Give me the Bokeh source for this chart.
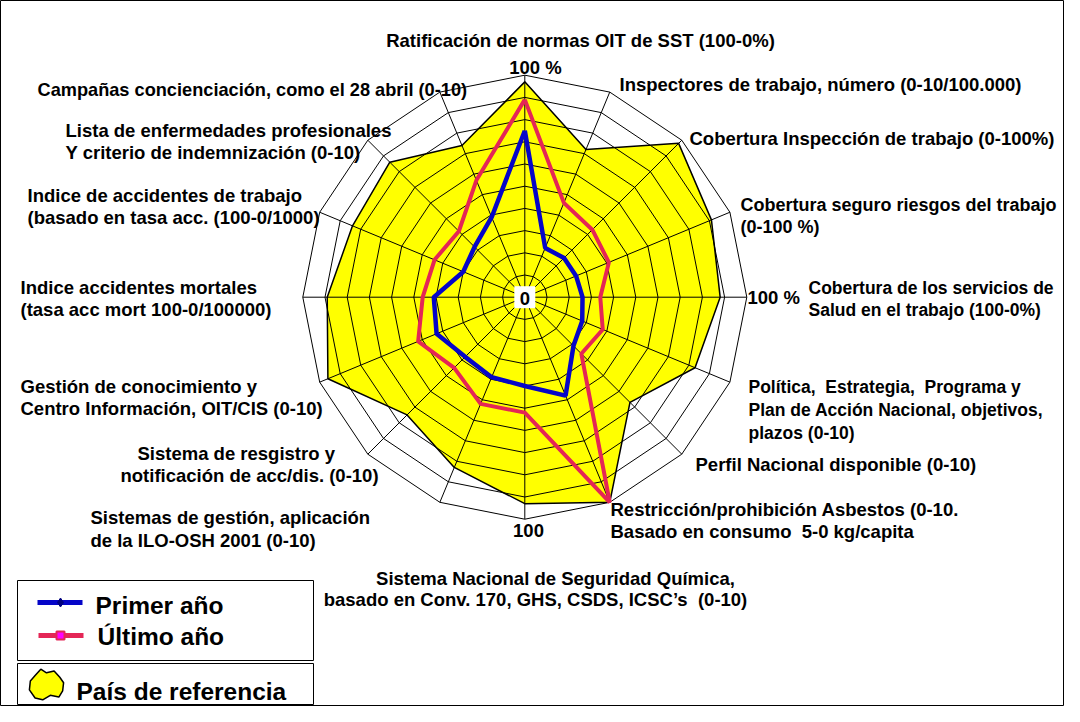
import numpy as np
from bokeh.plotting import figure
from bokeh.models import Range1d
from bokeh.core.properties import value
from bokeh.embed import file_html
from bokeh.resources import INLINE

# ---------------- data ----------------
categories = [
    "Ratificación de normas OIT de SST (100-0%)",
    "Inspectores de trabajo, número (0-10/100.000)",
    "Cobertura Inspección de trabajo (0-100%)",
    "Cobertura seguro riesgos del trabajo (0-100 %)",
    "Cobertura de los servicios de Salud en el trabajo (100-0%)",
    "Política, Estrategia, Programa y Plan de Acción Nacional, objetivos, plazos (0-10)",
    "Perfil Nacional disponible (0-10)",
    "Restricción/prohibición Asbestos (0-10. Basado en consumo 5-0 kg/capita)",
    "Sistema Nacional de Seguridad Química (0-10)",
    "Sistemas de gestión, aplicación de la ILO-OSH 2001 (0-10)",
    "Sistema de resgistro y notificación de acc/dis. (0-10)",
    "Gestión de conocimiento y Centro Información, OIT/CIS (0-10)",
    "Indice accidentes mortales (tasa acc mort 100-0/100000)",
    "Indice de accidentes de trabajo (basado en tasa acc. (100-0/1000)",
    "Lista de enfermedades profesionales Y criterio de indemnización (0-10)",
    "Campañas concienciación, como el 28 abril (0-10)",
]
ref_values   = [97, 72, 98, 91, 88, 83, 67, 100, 93, 83, 75, 96, 89, 84, 86, 74]
last_values  = [89, 46, 43, 41, 34, 38, 36, 100, 52, 52, 45, 52, 46, 44, 42, 57]
first_values = [75, 24, 25, 25, 26, 28, 31, 48, 40, 39, 38, 43, 41, 30, 32, 39]
ring_values = [10, 20, 30, 40, 50, 60, 70, 80, 90, 100]
series_names = ["Primer año", "Último año", "País de referencia"]

# ---------------- layout ----------------
W, H = 1064, 706
CX, CY = 524.3, 296.7       # centre of the radar (px)
S = 2.22                    # px per unit (0-100)
N = len(categories)
ang = np.arange(N) * 2 * np.pi / N

FONT = value("Liberation Sans")
FS = "18.5px"
FS_R = "17.5px"
LFS = "24.5px"
YELLOW = "#FFFF00"
BLUE = "#0505C8"
RED = "#E42656"
NB = "\u00a0"


def polar(vals):
    v = np.asarray(vals, dtype=float)
    return list(CX + v * S * np.sin(ang)), list(CY - v * S * np.cos(ang))


p = figure(width=W, height=H, x_range=Range1d(0, W), y_range=Range1d(H, 0),
           output_backend="svg", toolbar_location=None, min_border=0,
           x_axis_location=None, y_axis_location=None)
p.grid.visible = False
p.outline_line_color = "black"
p.outline_line_width = 1
p.background_fill_color = "white"
p.border_fill_color = "white"

# reference country (yellow area)
rx, ry = polar(ref_values)
p.patch(rx, ry, fill_color=YELLOW, line_color="black", line_width=1.5)

# grid rings
xs, ys = [], []
for rv in ring_values:
    gx, gy = polar([rv] * N)
    xs.append(gx + [gx[0]])
    ys.append(gy + [gy[0]])
p.multi_line(xs, ys, line_color="black", line_width=1)
# spokes
ox, oy = polar([ring_values[-1]] * N)
p.segment(x0=[CX] * N, y0=[CY] * N, x1=ox, y1=oy, line_color="black", line_width=1)

# series
lx, ly = polar(last_values)
p.line(lx + [lx[0]], ly + [ly[0]], line_color=RED, line_width=4)
fx, fy = polar(first_values)
p.line(fx + [fx[0]], fy + [fy[0]], line_color=BLUE, line_width=4.5)

# centre label "0"
p.rect(x=[CX], y=[CY], width=21, height=22, fill_color="white", line_color=None)


def txt(x, y, s, align="left", size=FS):
    p.text(x=[x], y=[y], text=[s], text_font=FONT, text_font_style="bold",
           text_font_size=size, text_align=align, text_baseline="middle", text_color="black")


txt(CX, CY + 1, "0", align="center")
txt(535, 67, "100 %", align="center")
txt(747, 297, "100 %")
txt(528, 530, "100", align="center")

labels = [
    (580, 40, "Ratificación de normas OIT de SST (100-0%)", "center", FS),
    (619, 84, "Inspectores de trabajo, número (0-10/100.000)", "left", FS),
    (689, 138, "Cobertura Inspección de trabajo (0-100%)", "left", FS),
    (740, 204, "Cobertura seguro riesgos del trabajo", "left", "18px"),
    (740, 226, "(0-100 %)", "left", "18px"),
    (808, 287, "Cobertura de los servicios de", "left", FS_R),
    (808, 309, "Salud en el trabajo (100-0%)", "left", FS_R),
    (748, 386, "Política," + NB + " Estrategia," + NB + " Programa y", "left", FS_R),
    (748, 409, "Plan de Acción Nacional, objetivos,", "left", FS_R),
    (748, 432, "plazos (0-10)", "left", FS_R),
    (695, 464, "Perfil Nacional disponible (0-10)", "left", FS),
    (610, 509, "Restricción/prohibición Asbestos (0-10.", "left", FS),
    (610, 531, "Basado en consumo " + NB + "5-0 kg/capita", "left", FS),
    (555, 578, "Sistema Nacional de Seguridad Química,", "center", FS),
    (535, 599, "basado en Conv. 170, GHS, CSDS, ICSC’s " + NB + "(0-10)", "center", FS),
    (90, 517, "Sistemas de gestión, aplicación", "left", FS),
    (90, 540, "de la ILO-OSH 2001 (0-10)", "left", FS),
    (137, 453, "Sistema de resgistro y", "left", FS),
    (120, 475, "notificación de acc/dis. (0-10)", "left", FS),
    (20, 386, "Gestión de conocimiento y", "left", FS),
    (20, 408, "Centro Información, OIT/CIS (0-10)", "left", FS),
    (20, 287, "Indice accidentes mortales", "left", FS),
    (20, 309, "(tasa acc mort 100-0/100000)", "left", FS),
    (27, 195, "Indice de accidentes de trabajo", "left", FS),
    (27, 217, "(basado en tasa acc. (100-0/1000)", "left", FS),
    (65, 130, "Lista de enfermedades profesionales", "left", FS),
    (65, 152, "Y criterio de indemnización (0-10)", "left", FS),
    (37, 89, "Campañas concienciación, como el 28 abril (0-10)", "left", "18.2px"),
]
for x, y, s, a, fs in labels:
    txt(x, y, s, align=a, size=fs)

# ---------------- legend ----------------
p.quad(left=[17], right=[313], top=[580], bottom=[660], fill_color="white", line_color="black", line_width=1)
p.quad(left=[17], right=[313], top=[663], bottom=[704], fill_color="white", line_color="black", line_width=1)

p.line([37, 82], [602, 602], line_color=BLUE, line_width=5)
p.scatter([60], [602], marker="diamond", size=9, fill_color="#000080", line_color="#000080")
p.line([38, 83], [635, 635], line_color=RED, line_width=5)
p.scatter([60], [635], marker="square", size=8, fill_color="#FF00FF", line_color=RED, line_width=2)
txt(95, 605, series_names[0], size=LFS)
txt(97, 636, series_names[1], size=LFS)

# blob icon for reference country
bx = np.array([-6, 0, 8, 14, 18, 17, 13, 4, -4, -12, -18, -17, -12])
by = np.array([-17, -13, -15, -8, -2, 7, 14, 12, 17, 15, 6, -4, -10])
p.patch(list(46 + bx * 0.95), list(684 + by * 0.9), fill_color=YELLOW, line_color="black", line_width=1.5)
txt(76, 691, series_names[2], size=LFS)

open("out.html", "w").write(file_html(p, INLINE))
